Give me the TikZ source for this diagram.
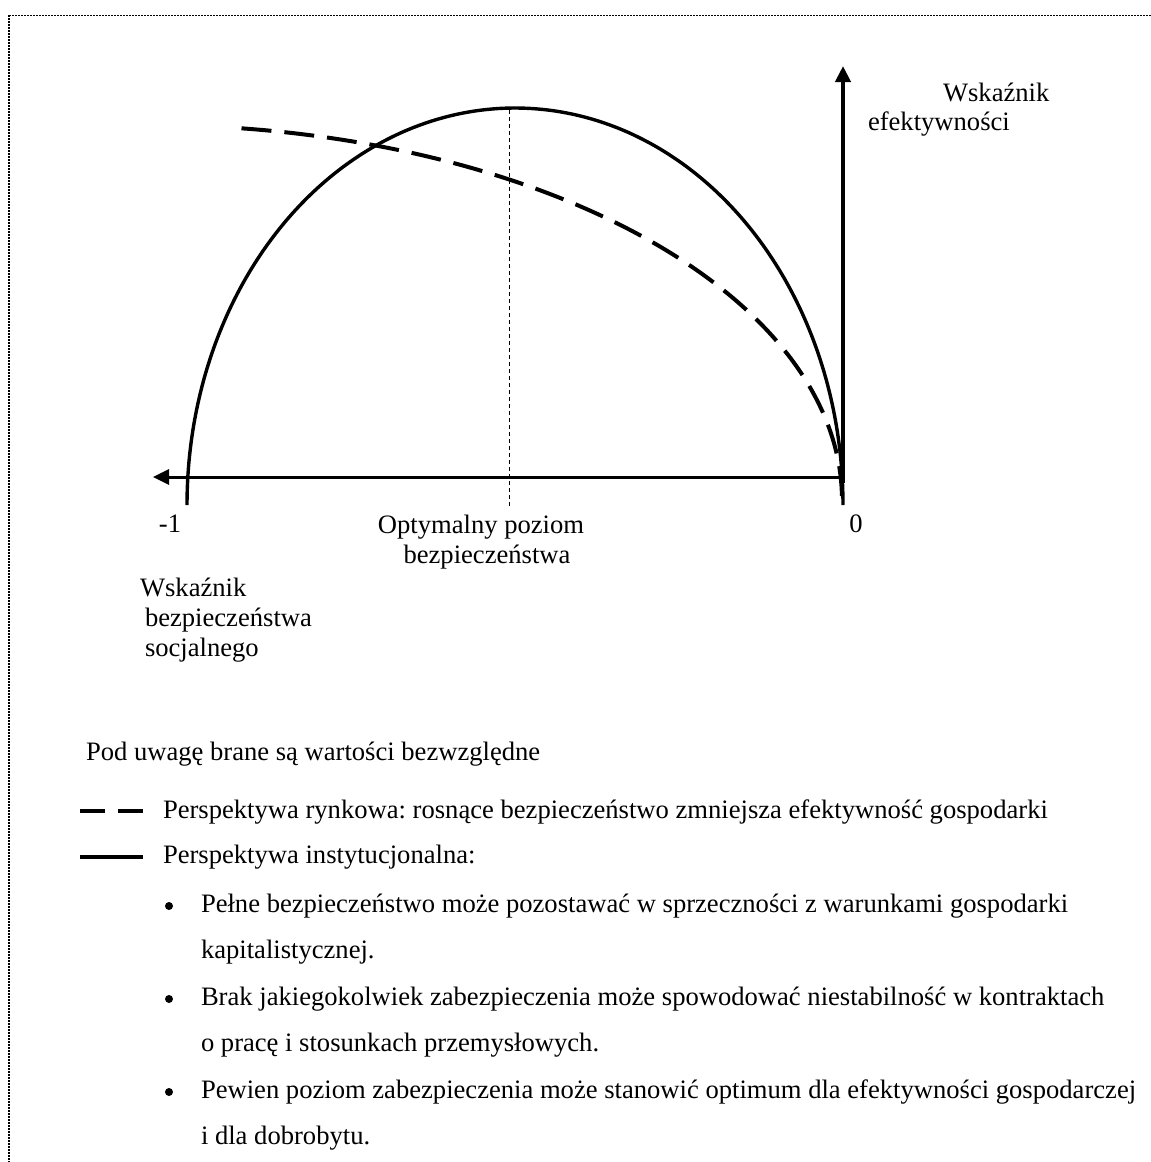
\documentclass[tikz,border=0pt]{standalone}
\usepackage{fontspec}
\setmainfont{Liberation Serif}
\usetikzlibrary{arrows.meta}
\frenchspacing

\tikzset{
  txt/.style={inner sep=0pt, outer sep=0pt, anchor=base west},
  txtc/.style={inner sep=0pt, outer sep=0pt, anchor=base},
  axisline/.style={-{Triangle[length=8pt,width=7.5pt]}},
  instcurve/.style={line width=1.7pt},
  marketcurve/.style={line width=2pt, dash pattern=on 15pt off 6.5pt},
  optline/.style={line width=0.5pt, dash pattern=on 2pt off 1.5pt},
  frameline/.style={dash pattern=on 1pt off 0.5pt},
  bulletdot/.style={circle, fill=black, inner sep=0pt, minimum size=4pt},
}

\begin{document}
\begin{tikzpicture}[x=0.5pt, y=-0.5pt, font=\fontsize{13.3}{15}\selectfont]
\useasboundingbox (0,0) rectangle (1151,1162);

% dotted frame (top and left edges)
\draw[frameline, line width=0.5pt] (9,15) -- (1151,15);
\draw[frameline, line width=1.2pt] (9,15) -- (9,1162);

% axes
\coordinate (O) at (843,477);
\coordinate (vbot) at (843,483);
\coordinate (vtop) at (843,66);
\coordinate (hleft) at (153,477);
\draw[axisline, line width=2pt] (vbot) -- (vtop);
\draw[axisline, line width=1.5pt] (O) -- (hleft);

% institutional perspective: half ellipse
\draw[instcurve] plot[smooth, domain=180:360, samples=150]
  ({515+328*cos(\x)},{505+397*sin(\x)});

% market perspective: dashed elliptic arc
\draw[marketcurve] plot[smooth, domain=82.4:0, samples=150]
  ({150+692*cos(\x)},{500-375*sin(\x)});

% optimum level marker
\coordinate (opttop) at (509,110);
\coordinate (optbot) at (509,507);
\draw[optline] (opttop) -- (optbot);

% axis labels
\node[txt] (effa) at (943,101) {Wskaźnik};
\node[txt] (effb) at (868,130) {efektywności};
\node[txtc] (mone) at (170,532) {-1};
\node[txtc] (zero) at (856,532) {0};
\node[txtc] (opta) at (481,533) {Optymalny poziom};
\node[txtc] (optb) at (487,563) {bezpieczeństwa};
\node[txt] (seca) at (140,596) {Wskaźnik};
\node[txt] (secb) at (145,626) {bezpieczeństwa};
\node[txt] (secc) at (145,656) {socjalnego};

% legend
\node[txt] (note) at (86,760) {Pod uwagę brane są wartości bezwzględne};
\coordinate (ldA) at (80,811);
\coordinate (ldB) at (143,811);
\draw[line width=2pt, dash pattern=on 12.5pt off 6.5pt] (ldA) -- (ldB);
\node[txt] (market) at (163,818) {Perspektywa rynkowa: rosnące bezpieczeństwo zmniejsza efektywność gospodarki};
\coordinate (lsA) at (80,857);
\coordinate (lsB) at (143,857);
\draw[line width=1.7pt] (lsA) -- (lsB);
\node[txt] (inst) at (163,863) {Perspektywa instytucjonalna:};

% bullet points
\node[bulletdot] (b1) at (169,906) {};
\node[txt] (p1a) at (201,912) {Pełne bezpieczeństwo może pozostawać w sprzeczności z warunkami gospodarki};
\node[txt] (p1b) at (201,958.5) {kapitalistycznej.};
\node[bulletdot] (b2) at (169,999) {};
\node[txt] (p2a) at (201,1005) {Brak jakiegokolwiek zabezpieczenia może spowodować niestabilność w kontraktach};
\node[txt] (p2b) at (201,1051.5) {o pracę i stosunkach przemysłowych.};
\node[bulletdot] (b3) at (169,1092) {};
\node[txt] (p3a) at (201,1098) {Pewien poziom zabezpieczenia może stanowić optimum dla efektywności gospodarczej};
\node[txt] (p3b) at (201,1144.5) {i dla dobrobytu.};
\end{tikzpicture}
\end{document}
